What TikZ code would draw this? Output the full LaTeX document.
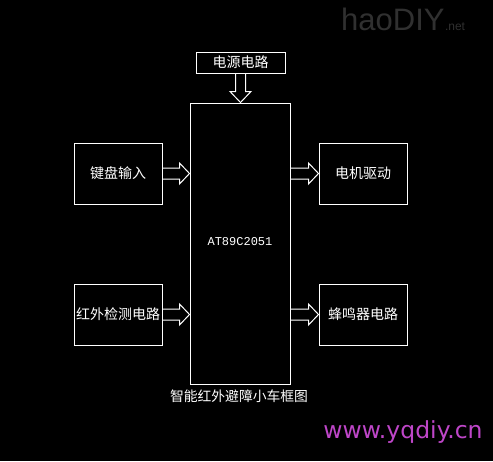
\documentclass[tikz,border=0pt]{standalone}
\usepackage{fontspec}
\setmainfont{Liberation Sans}
\newfontfamily\cjk{Noto Sans CJK SC}
\newfontfamily\monof{Liberation Mono}
\newfontfamily\dvs{DejaVu Sans}
\usetikzlibrary{calc}
\definecolor{urlc}{RGB}{190,70,200}
\definecolor{wmark}{RGB}{48,48,48}
\tikzset{
  box/.style={draw=white, line width=1pt, minimum width=88pt, minimum height=61pt, inner sep=0pt, text=white, font=\cjk\fontsize{14}{14}\selectfont},
  harrow/.style={draw=white, line width=1pt, line join=miter},
}
\begin{document}
\begin{tikzpicture}[x=1pt,y=-1pt]
\fill[black] (0,0) rectangle (493,461);
\useasboundingbox (0,0) rectangle (493,461);
% boxes
\node[box, minimum width=89pt, minimum height=21pt] (pwr) at (240.5,62.5) {电源电路};
\node[box, minimum width=100pt, minimum height=281pt] (mcu) at (240,243.5) {};
\node[text=white, font=\monof\fontsize{12}{12}\selectfont] (mcul) at (240,242) {AT89C2051};
\node[box] (kb) at (118,173.5) {键盘输入};
\node[box] (ir) at (118,314.5) {红外检测电路};
\node[box] (mot) at (363,173.5) {电机驱动};
\node[box] (buz) at (363,314.5) {蜂鸣器电路};
% hollow arrows
\newcommand\hollowR[3]{%
  \draw[harrow] let \p1=(#1.east |- #3), \p2=(#2.west |- #3) in
    (\x1,\y1+5.5pt) -- (\x2-10pt,\y1+5.5pt) -- (\x2-10pt,\y1+10.5pt) -- (\x2,\y1)
    -- (\x2-10pt,\y1-10.5pt) -- (\x2-10pt,\y1-5.5pt) -- (\x1,\y1-5.5pt);}
\hollowR{kb}{mcu}{kb}
\hollowR{ir}{mcu}{ir}
\hollowR{mcu}{mot}{mot}
\hollowR{mcu}{buz}{buz}
\draw[harrow] let \p1=(pwr.south), \p2=(mcu.north) in
  (\x1-5pt,\y1) -- (\x1-5pt,\y2+11pt) -- (\x1-10.5pt,\y2+11pt) -- (\x1,\y2)
  -- (\x1+10.5pt,\y2+11pt) -- (\x1+5pt,\y2+11pt) -- (\x1+5pt,\y1);
% caption
\node[text=white, font=\cjk\fontsize{13.8}{14}\selectfont] (cap) at (239,396) {智能红外避障小车框图};
% url
\node[text=urlc, font=\dvs\fontsize{23.5}{24}\selectfont, anchor=base] (url) at (403,438) {www.yqdiy.cn};
% watermark
\node[text=wmark, font=\fontsize{31}{31}\selectfont, anchor=base west, inner sep=0pt] (wm) at (341,30) {haoDIY};
\node[text=wmark, font=\fontsize{12}{12}\selectfont, anchor=base west, inner sep=0pt] (wmn) at (wm.base east) {.net};
\end{tikzpicture}
\end{document}
